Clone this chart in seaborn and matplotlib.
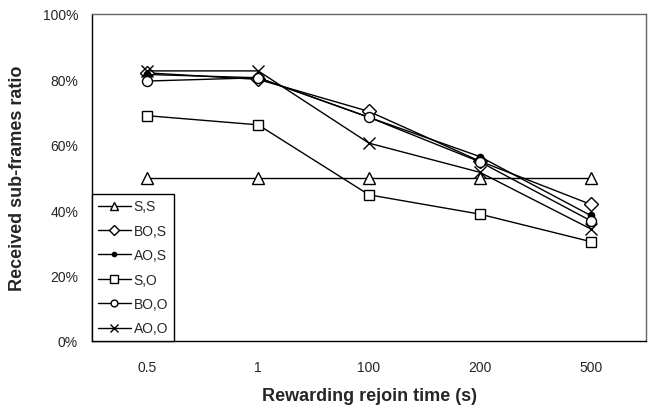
import matplotlib
matplotlib.use("Agg")
import matplotlib.pyplot as plt
import seaborn as sns
import pandas as pd
from matplotlib.ticker import PercentFormatter, FixedLocator

categories = ["0.5", "1", "100", "200", "500"]
s_s = [50, 50, 50, 50, 50]
bo_s = [82, 80, 70.2, 55, 41.8]
ao_s = [81.5, 80.5, 68.4, 56.4, 38.4]
s_o = [68.9, 66.1, 44.7, 38.8, 30.4]
bo_o = [79.5, 80.5, 68.4, 54.8, 36.8]
ao_o = [82.6, 82.6, 60.5, 51.6, 34.3]

series = [
    ("S,S", s_s, "^", "white", 8.5),
    ("BO,S", bo_s, "D", "white", 7.5),
    ("AO,S", ao_s, "o", "black", 4.5),
    ("S,O", s_o, "s", "white", 7.5),
    ("BO,O", bo_o, "o", "white", 7.2),
    ("AO,O", ao_o, "x", "black", 8.5),
]

sns.set_style("white")
plt.rcParams["font.family"] = ["Liberation Sans", "DejaVu Sans"]

fig = plt.figure(figsize=(6.49, 4.06), dpi=100)
ax = fig.add_axes([92 / 649, 64 / 406, 554 / 649, 327 / 406])

for name, vals, mk, fc, ms in series:
    df = pd.DataFrame({"x": categories, "y": vals})
    sns.lineplot(data=df, x="x", y="y", ax=ax, color="black", linewidth=1,
                 marker=mk, markersize=ms, markerfacecolor=fc,
                 markeredgecolor="black", markeredgewidth=1, label=name,
                 sort=False)

ax.set_xlim(-0.5, 4.5)
ax.set_ylim(0, 100)
ax.yaxis.set_major_locator(FixedLocator([0, 20, 40, 60, 80, 100]))
ax.yaxis.set_major_formatter(PercentFormatter(decimals=0))
ax.set_xticks(range(5))
ax.set_xticklabels(categories)
ax.set_xticks([-0.5 + i for i in range(6)], minor=True)
ax.tick_params(axis="x", which="major", length=0, pad=14, labelsize=10)
ax.tick_params(axis="x", which="minor", length=5, width=1, direction="out", color="black")
ax.tick_params(axis="y", which="major", length=5, width=1, direction="out", labelsize=10, color="black", pad=5)
ax.grid(False)

for side in ["left", "bottom"]:
    ax.spines[side].set_color("black")
    ax.spines[side].set_linewidth(1)
for side in ["top", "right"]:
    ax.spines[side].set_color("#666666")
    ax.spines[side].set_linewidth(1)

ax.set_xlabel("Rewarding rejoin time (s)", fontsize=13, fontweight="bold", labelpad=9)
ax.set_ylabel("Received sub-frames ratio", fontsize=13, fontweight="bold", labelpad=12)

leg = ax.legend(loc="lower left", bbox_to_anchor=(0, 0), borderaxespad=0,
                frameon=True, fancybox=False, edgecolor="black", fontsize=10,
                labelspacing=0.75, handlelength=2.4, handletextpad=0.2,
                borderpad=0.4, markerscale=0.68)
leg.get_frame().set_linewidth(1)
leg.get_frame().set_alpha(1)

fig.savefig("out.png", dpi=100)
